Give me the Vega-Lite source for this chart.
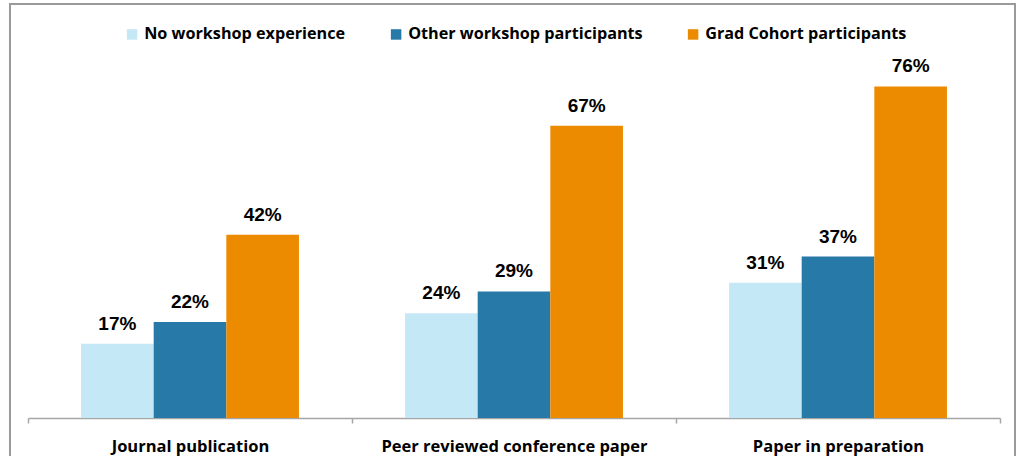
{
  "$schema": "https://vega.github.io/schema/vega-lite/v6.json",
  "width": 1005,
  "height": 470,
  "padding": {"left": 10, "top": 4, "right": 5, "bottom": 0},
  "background": "white",
  "config": {
    "view": {"stroke": "#9a9a9a", "strokeWidth": 2}
  },
  "data": {
    "values": [
      {"category": "Journal publication", "group": "No workshop experience", "value": 0.17},
      {"category": "Journal publication", "group": "Other workshop participants", "value": 0.22},
      {"category": "Journal publication", "group": "Grad Cohort participants", "value": 0.42},
      {"category": "Peer reviewed conference paper", "group": "No workshop experience", "value": 0.24},
      {"category": "Peer reviewed conference paper", "group": "Other workshop participants", "value": 0.29},
      {"category": "Peer reviewed conference paper", "group": "Grad Cohort participants", "value": 0.67},
      {"category": "Paper in preparation", "group": "No workshop experience", "value": 0.31},
      {"category": "Paper in preparation", "group": "Other workshop participants", "value": 0.37},
      {"category": "Paper in preparation", "group": "Grad Cohort participants", "value": 0.76}
    ]
  },
  "encoding": {
    "x": {
      "field": "category",
      "type": "nominal",
      "sort": ["Journal publication", "Peer reviewed conference paper", "Paper in preparation"],
      "scale": {"range": [18, 990], "paddingInner": 0, "paddingOuter": 0},
      "axis": {
        "title": null,
        "orient": "bottom",
        "offset": -56,
        "labelAngle": 0,
        "tickBand": "extent",
        "tickSize": 5,
        "domainColor": "#a6a6a6",
        "domainWidth": 1.5,
        "tickColor": "#a6a6a6",
        "tickWidth": 1.5,
        "labelFont": "Open Sans",
        "labelFontWeight": "bold",
        "labelFontSize": 16.5,
        "labelColor": "#000000",
        "labelLimit": 0,
        "labelPadding": 15
      }
    },
    "xOffset": {
      "field": "group",
      "sort": ["No workshop experience", "Other workshop participants", "Grad Cohort participants"],
      "scale": {"paddingOuter": 0.73, "paddingInner": 0}
    },
    "y": {
      "field": "value",
      "type": "quantitative",
      "scale": {"domain": [0, 0.8], "range": [414, 65]},
      "axis": null
    }
  },
  "layer": [
    {
      "mark": {"type": "bar"},
      "encoding": {
        "color": {
          "field": "group",
          "type": "nominal",
          "sort": ["No workshop experience", "Other workshop participants", "Grad Cohort participants"],
          "scale": {
            "domain": ["No workshop experience", "Other workshop participants", "Grad Cohort participants"],
            "range": ["#C5E8F7", "#2779A7", "#EC8B00"]
          },
          "legend": {
            "orient": "none",
            "legendX": 114,
            "legendY": 22,
            "direction": "horizontal",
            "title": null,
            "symbolType": "square",
            "symbolSize": 110,
            "symbolStrokeWidth": 0,
            "labelFont": "Open Sans",
            "labelFontWeight": "bold",
            "labelFontSize": 16.2,
            "labelColor": "#000000",
            "labelLimit": 0,
            "columnPadding": 42,
            "labelOffset": 4,
            "padding": 0
          }
        }
      }
    },
    {
      "mark": {
        "type": "text",
        "baseline": "alphabetic",
        "dy": -14,
        "font": "Liberation Sans",
        "fontWeight": "bold",
        "fontSize": 19,
        "color": "#000000"
      },
      "encoding": {
        "text": {"field": "value", "type": "quantitative", "format": ".0%"}
      }
    }
  ]
}
